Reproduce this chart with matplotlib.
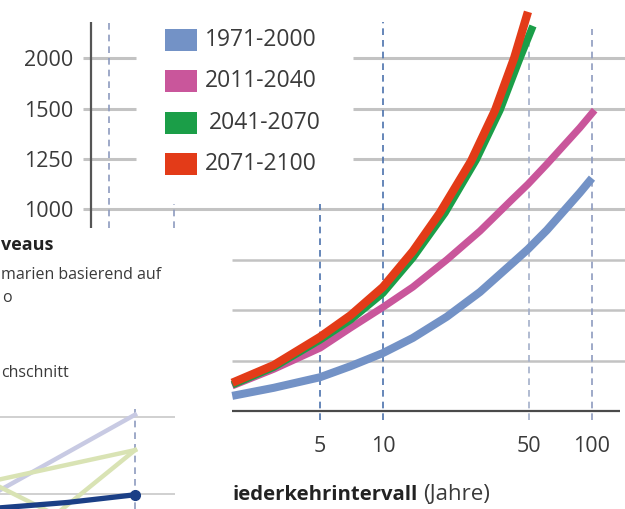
import matplotlib.pyplot as plt
from matplotlib.patches import Rectangle

plt.rcParams['font.family'] = ['Open Sans', 'DejaVu Sans']

# --- data ---
series_names = ['1971-2000', '2011-2040', '2041-2070', '2071-2100']
series_colors = ['#7392c6', '#c9569b', '#1b9e48', '#e33b18']

# return periods (years) and curve levels (grid units)
periods_1971 = [1.9, 3, 5, 7, 10, 13.9, 20.2, 29.1, 41.8, 49.4, 60.9, 87.5, 100]
values_1971 = [0.30, 0.46, 0.67, 0.89, 1.15, 1.45, 1.87, 2.36, 2.94, 3.21, 3.59, 4.33, 4.62]
periods_2011 = [1.9, 3, 5, 7, 10, 13.9, 20.2, 29.1, 41.8, 49.4, 60.9, 87.5, 103]
values_2011 = [0.50, 0.83, 1.25, 1.65, 2.06, 2.46, 3.00, 3.57, 4.21, 4.50, 4.90, 5.62, 5.97]
periods_2041 = [1.9, 3, 5, 7, 10, 13.9, 19.8, 27.9, 36.3, 45.2, 52.2]
values_2041 = [0.52, 0.87, 1.41, 1.81, 2.34, 3.04, 3.93, 4.98, 5.97, 7.00, 7.64]
periods_2071 = [1.9, 3, 5, 7, 10, 13.9, 18.7, 26.4, 34.4, 42.4, 49.4]
values_2071 = [0.56, 0.91, 1.47, 1.90, 2.46, 3.17, 3.93, 4.96, 5.97, 7.00, 7.92]

x_ticks = [5, 10, 50, 100]
y_ticks = [4, 5, 6, 7]
y_tick_labels = ['1000', '1250', '1500', '2000']

# small line chart, lower left
small_lavender_x = [0, 1]
small_lavender_y = [0.05, 1.03]
small_green1_x = [0, 1]
small_green1_y = [0.19, 0.57]
small_green2_x = [0, 0.41, 1]
small_green2_y = [0.09, -0.27, 0.57]
small_navy_x = [0, 0.5, 1]
small_navy_y = [-0.18, -0.11, -0.01]

text_col = '#3a3a3a'
grid_col = '#c3c3c3'

fig = plt.figure(figsize=(6.25, 5.09), dpi=100)

# overlay in pixel coordinates for the loose pieces
deco = fig.add_axes([0, 0, 1, 1])
deco.set_xlim(0, 625)
deco.set_ylim(509, 0)
deco.axis('off')

for i, (name, col) in enumerate(zip(series_names, series_colors)):
    y0 = 29 + 41.3 * i
    deco.add_patch(Rectangle((165, y0), 32, 22, color=col, lw=0))
    deco.text(205 + (4 if i == 2 else 0), y0 + 11, name, fontsize=16.5,
              color=text_col, va='center', ha='left')

deco.text(1, 245, 'veaus', fontsize=13, fontweight='bold', color='#222222', va='center')
deco.text(1, 275, 'marien basierend auf', fontsize=11.5, color=text_col, va='center')
deco.text(2, 298, 'o', fontsize=11.5, color=text_col, va='center')
deco.text(1, 373, 'chschnitt', fontsize=11.5, color=text_col, va='center')
deco.text(232, 495, 'iederkehrintervall', fontsize=14.6, fontweight='bold',
          color='#222222', va='center')
deco.text(423, 495, '(Jahre)', fontsize=16, color=text_col, va='center')

# main curve chart
ax = fig.add_axes([83 / 625, 79 / 509, 542 / 625, 430 / 509])
ax.patch.set_alpha(0)
ax.set_xscale('log')
ax.set_xlim(0.367, 143.9)
ax.set_ylim(-0.377, 8.155)
for s in ax.spines.values():
    s.set_visible(False)

for y in [5, 6, 7]:
    ax.hlines(y, 0.367, 0.658, color=grid_col, lw=2.2, zorder=1)
    ax.hlines(y, 7.18, 143.9, color=grid_col, lw=2.2, zorder=1)
ax.hlines(4, 0.367, 143.9, color=grid_col, lw=2.2, zorder=1)
for y in [1, 2, 3]:
    ax.hlines(y, 1.9, 143.9, color=grid_col, lw=1.8, zorder=1)
ax.hlines(0, 1.9, 136, color='#4a4a4a', lw=1.6, zorder=3)
ax.vlines(0.40, 3.63, 7.72, color='#555555', lw=1.6, zorder=3)

dash = (0, (4, 3))
ax.vlines(0.49, 3.63, 7.72, color='#8d9bbf', lw=1.2, linestyles=dash, zorder=2)
ax.vlines(1.0, 3.63, 4.11, color='#8d9bbf', lw=1.2, linestyles=dash, zorder=2)
ax.vlines(5, -0.18, 4.11, color='#4b72ad', lw=1.2, linestyles=dash, zorder=2)
ax.vlines(10, -0.18, 7.72, color='#4b72ad', lw=1.2, linestyles=dash, zorder=2)
ax.vlines(50, -0.18, 7.6, color='#a3afca', lw=1.2, linestyles=dash, zorder=2)
ax.vlines(100, -0.18, 7.58, color='#8d9bbf', lw=1.2, linestyles=dash, zorder=2)

curves = [(periods_1971, values_1971, 5.8), (periods_2011, values_2011, 5.2),
          (periods_2041, values_2041, 5.4), (periods_2071, values_2071, 6.0)]
for (px, py, lw), col in zip(curves, series_colors):
    ax.plot(px, py, color=col, lw=lw, solid_capstyle='butt',
            solid_joinstyle='round', zorder=4)

ax.set_xticks(x_ticks)
ax.set_xticklabels([str(t) for t in x_ticks])
ax.minorticks_off()
ax.set_yticks(y_ticks)
ax.set_yticklabels(y_tick_labels)
ax.tick_params(length=0, labelsize=15.5, labelcolor=text_col)
ax.tick_params(axis='y', pad=7)
ax.tick_params(axis='x', pad=4)

# small line chart
sm = fig.add_axes([0, 0, 175 / 625, 109 / 509])
sm.patch.set_alpha(0)
sm.set_xlim(0, 1.296)
sm.set_ylim(-0.195, 1.221)
sm.axis('off')
sm.axhline(0, color='#c8c8c8', lw=1.2)
sm.axhline(1, color='#c8c8c8', lw=1.2)
sm.vlines(1, -0.2, 1.156, color='#8d9bbf', lw=1.2, linestyles=dash)
sm.plot(small_lavender_x, small_lavender_y, color='#c8cae3', lw=3.2)
sm.plot(small_green1_x, small_green1_y, color='#d9e3b4', lw=3.2)
sm.plot(small_green2_x, small_green2_y, color='#d9e3b4', lw=3.2)
sm.plot(small_navy_x, small_navy_y, color='#1b3f86', lw=3.8)
sm.plot(small_navy_x[-1:], small_navy_y[-1:], 'o', color='#1b3f86', ms=7)

fig.savefig('out.png', dpi=100)
